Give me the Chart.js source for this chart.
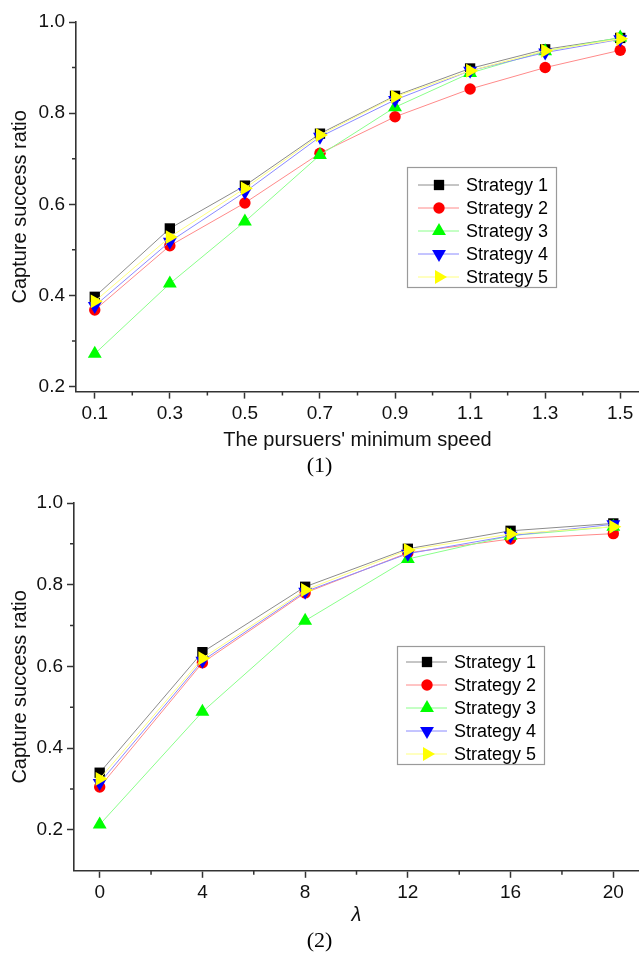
<!DOCTYPE html>
<html>
<head>
<meta charset="utf-8">
<script src="https://cdn.jsdelivr.net/npm/chart.js@4/dist/chart.umd.min.js"></script>
<style>
  html, body { margin: 0; padding: 0; background: #fff; }
  .panel { position: absolute; left: 0; width: 639px; }
  #p1 { top: 0; height: 480px; }
  #p2 { top: 480px; height: 477px; }
</style>
</head>
<body>
<div class="panel" id="p1"><canvas id="chart1" width="639" height="480"></canvas></div>
<div class="panel" id="p2"><canvas id="chart2" width="639" height="477"></canvas></div>
<script>
// ---- données ----
const strategyNames = ['Strategy 1', 'Strategy 2', 'Strategy 3', 'Strategy 4', 'Strategy 5'];

// (1) vitesse minimale des poursuivants
const speeds = [0.1, 0.3, 0.5, 0.7, 0.9, 1.1, 1.3, 1.5];
const speedS1 = [0.397, 0.547, 0.641, 0.755, 0.838, 0.898, 0.940, 0.965];
const speedS2 = [0.368, 0.509, 0.603, 0.712, 0.792, 0.853, 0.900, 0.938];
const speedS3 = [0.272, 0.426, 0.562, 0.708, 0.813, 0.888, 0.936, 0.966];
const speedS4 = [0.377, 0.518, 0.627, 0.748, 0.829, 0.893, 0.933, 0.962];
const speedS5 = [0.387, 0.528, 0.635, 0.752, 0.836, 0.893, 0.937, 0.963];
const speedTicks = [0.1, 0.3, 0.5, 0.7, 0.9, 1.1, 1.3, 1.5];
const speedMinor = [0.2, 0.4, 0.6, 0.8, 1.0, 1.2, 1.4];

// (2) lambda
const lambdas = [0, 4, 8, 12, 16, 20];
const lambdaS1 = [0.340, 0.635, 0.795, 0.888, 0.932, 0.950];
const lambdaS2 = [0.305, 0.609, 0.780, 0.878, 0.912, 0.925];
const lambdaS3 = [0.213, 0.489, 0.712, 0.863, 0.920, 0.942];
const lambdaS4 = [0.315, 0.614, 0.783, 0.876, 0.920, 0.948];
const lambdaS5 = [0.325, 0.620, 0.787, 0.885, 0.924, 0.942];
const lambdaTicks = [0, 4, 8, 12, 16, 20];
const lambdaMinor = [2, 6, 10, 14, 18];

const ratioTicks = [0.2, 0.4, 0.6, 0.8, 1.0];
const ratioMinor = [0.3, 0.5, 0.7, 0.9];

// ---- styles ----
const lineColors = ['#8c8c8c', '#ff8a8a', '#8aff8a', '#8a8aff', '#ffff80'];
const markColors = ['#000000', '#ff0000', '#00ff00', '#0000ff', '#ffff00'];
const markStyles = ['rect', 'circle', 'triangle', 'triangle', 'triangle'];
const markRotation = [0, 0, 0, 180, 90];
const markRadius = [7.3, 5.7, 8, 8, 8];

const SANS = '"Liberation Sans", Arial, sans-serif';
const SERIF = '"Liberation Serif", "Times New Roman", serif';
const AXIS = '#333333';

/**
 * Petits traits secondaires sur les axes
 */
const minorTicks = {
    id: 'minorTicks',
    afterDraw(chart, args, opts) {
        const ctx = chart.ctx;
        const xs = chart.scales.x;
        const ys = chart.scales.y;
        ctx.save();
        ctx.strokeStyle = AXIS;
        ctx.lineWidth = 1.5;
        ctx.beginPath();
        opts.x.forEach(v => {
            const px = xs.getPixelForValue(v);
            if (px < xs.left || px > xs.right) return;
            ctx.moveTo(px, xs.top);
            ctx.lineTo(px, xs.top + opts.length);
        });
        opts.y.forEach(v => {
            const py = ys.getPixelForValue(v);
            ctx.moveTo(ys.right, py);
            ctx.lineTo(ys.right - opts.length, py);
        });
        ctx.stroke();
        ctx.restore();
    }
};

/**
 * Légende encadrée dans la zone du graphique (trait + marqueur)
 */
const boxLegend = {
    id: 'boxLegend',
    afterDraw(chart, args, opts) {
        const ctx = chart.ctx;
        const b = opts.box;
        ctx.save();
        ctx.fillStyle = '#fff';
        ctx.fillRect(b.left, b.top, b.width, b.height);
        ctx.strokeStyle = '#9a9a9a';
        ctx.lineWidth = 1.2;
        ctx.strokeRect(b.left + 0.5, b.top + 0.5, b.width, b.height);
        ctx.font = '18px ' + SANS;
        ctx.textBaseline = 'middle';
        ctx.textAlign = 'left';
        chart.data.datasets.forEach((ds, i) => {
            const y = b.top + opts.firstRow + i * opts.rowGap;
            ctx.strokeStyle = ds.borderColor;
            ctx.lineWidth = 1;
            ctx.beginPath();
            ctx.moveTo(b.left + opts.lineStart, y);
            ctx.lineTo(b.left + opts.lineStart + opts.lineLen, y);
            ctx.stroke();
            ctx.fillStyle = ds.pointBackgroundColor;
            Chart.helpers.drawPoint(ctx, {
                pointStyle: ds.pointStyle,
                rotation: ds.pointRotation,
                radius: ds.pointRadius,
                borderWidth: 0
            }, b.left + opts.markerX, y);
            ctx.fillStyle = '#000';
            ctx.fillText(ds.label, b.left + opts.textX, y + 1);
        });
        ctx.restore();
    }
};

function buildDatasets(xs, series) {
    return series.map((ys, i) => ({
        label: strategyNames[i],
        data: xs.map((x, j) => ({ x: x, y: ys[j] })),
        borderColor: lineColors[i],
        borderWidth: 1,
        backgroundColor: markColors[i],
        pointBackgroundColor: markColors[i],
        pointBorderColor: markColors[i],
        pointBorderWidth: 0,
        pointStyle: markStyles[i],
        pointRotation: markRotation[i],
        pointRadius: markRadius[i],
        pointHoverRadius: markRadius[i],
        tension: 0,
        fill: false,
        order: 4 - i,
        clip: false
    }));
}

function axisCommon() {
    return {
        grid: { drawOnChartArea: false, drawTicks: true, tickLength: 7, tickWidth: 1.5, tickColor: AXIS },
        border: { display: true, color: AXIS, width: 1.6 }
    };
}

function makeChart(id, cfg) {
    const ctx = document.getElementById(id).getContext('2d');
    return new Chart(ctx, {
        type: 'line',
        data: { datasets: buildDatasets(cfg.xValues, cfg.series) },
        options: {
            responsive: false,
            animation: false,
            devicePixelRatio: 1,
            layout: { autoPadding: false, padding: { top: cfg.padTop, left: 0, right: 0, bottom: 0 } },
            plugins: {
                legend: { display: false },
                tooltip: { enabled: false },
                title: {
                    display: true,
                    position: 'bottom',
                    text: cfg.caption,
                    color: '#000',
                    font: { family: SERIF, size: 22, weight: 'normal' },
                    padding: { top: 0, bottom: cfg.captionPad }
                },
                minorTicks: { x: cfg.xMinor, y: ratioMinor, length: 4 },
                boxLegend: Object.assign({ box: cfg.legendBox }, cfg.legendRows)
            },
            scales: {
                x: Object.assign(axisCommon(), {
                    type: 'linear',
                    min: cfg.xMin,
                    max: cfg.xMax,
                    afterBuildTicks: s => { s.ticks = cfg.xTicks.map(v => ({ value: v })); },
                    afterFit: s => {
                        s.height = cfg.xHeight;
                        s.paddingLeft = 0;
                        s.paddingRight = 0;
                    },
                    ticks: {
                        color: '#111',
                        padding: 4,
                        autoSkip: false,
                        maxRotation: 0,
                        font: { family: SANS, size: 19 },
                        callback: cfg.xFormat
                    },
                    title: {
                        display: true,
                        text: cfg.xTitle,
                        color: '#111',
                        font: { family: SANS, size: 20, style: cfg.xTitleStyle },
                        padding: { top: 0, bottom: 0 }
                    }
                }),
                y: Object.assign(axisCommon(), {
                    type: 'linear',
                    min: cfg.yMin,
                    max: 1.0,
                    afterBuildTicks: s => { s.ticks = ratioTicks.map(v => ({ value: v })); },
                    afterFit: s => { s.width = cfg.yWidth; },
                    ticks: {
                        color: '#111',
                        padding: 4,
                        font: { family: SANS, size: 19 },
                        callback: v => v.toFixed(1)
                    },
                    title: {
                        display: true,
                        text: 'Capture success ratio',
                        color: '#111',
                        font: { family: SANS, size: 20 },
                        padding: { top: 8, bottom: 0 }
                    }
                })
            }
        },
        plugins: [minorTicks, boxLegend]
    });
}

makeChart('chart1', {
    xValues: speeds,
    series: [speedS1, speedS2, speedS3, speedS4, speedS5],
    xMin: 0.05, xMax: 1.55, yMin: 0.189,
    xTicks: speedTicks, xMinor: speedMinor,
    xFormat: v => v.toFixed(1),
    xTitle: "The pursuers' minimum speed", xTitleStyle: 'normal',
    caption: '(1)', captionPad: 1,
    padTop: 22, yWidth: 76, xHeight: 61,
    legendBox: { left: 407, top: 167, width: 149, height: 120 },
    legendRows: { firstRow: 18, rowGap: 23, lineStart: 11, lineLen: 41, markerX: 32, textX: 59 }
});

makeChart('chart2', {
    xValues: lambdas,
    series: [lambdaS1, lambdaS2, lambdaS3, lambdaS4, lambdaS5],
    xMin: -1, xMax: 21, yMin: 0.1,
    xTicks: lambdaTicks, xMinor: lambdaMinor,
    xFormat: v => String(v),
    xTitle: 'λ', xTitleStyle: 'italic',
    caption: '(2)', captionPad: 3,
    padTop: 23, yWidth: 74, xHeight: 56.8,
    legendBox: { left: 397, top: 166, width: 147, height: 118 },
    legendRows: { firstRow: 16, rowGap: 23, lineStart: 9, lineLen: 41, markerX: 30, textX: 57 }
});
</script>
</body>
</html>
